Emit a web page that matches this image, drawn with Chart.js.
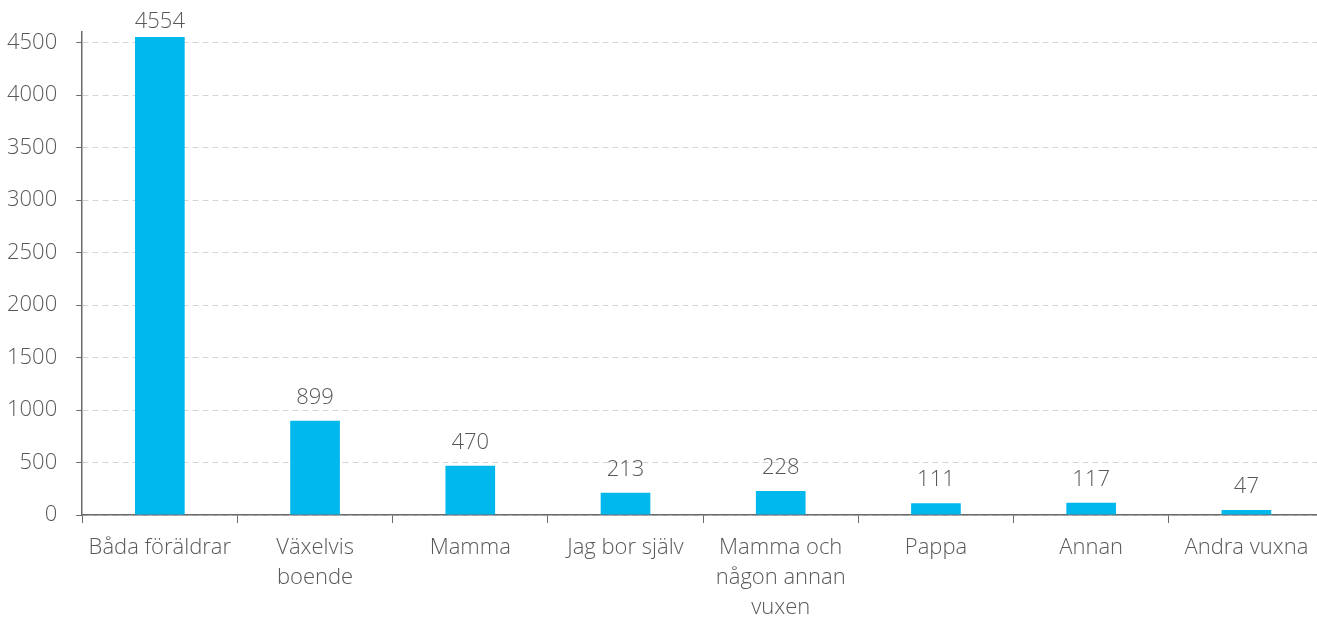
<!DOCTYPE html>
<html>
<head>
<meta charset="utf-8">
<script src="https://cdn.jsdelivr.net/npm/chart.js@4"></script>
<style>
  html, body { margin: 0; padding: 0; background: #fff; overflow: hidden; }
  #wrap { width: 1324px; height: 633px; }
</style>
</head>
<body>
<div id="wrap"><canvas id="myChart"></canvas></div>
<script>
'use strict'
const categories = [
    'Båda föräldrar',
    ['Växelvis', 'boende'],
    'Mamma',
    'Jag bor själv',
    ['Mamma och', 'någon annan', 'vuxen'],
    'Pappa',
    'Annan',
    'Andra vuxna'
];
const answers = [4554, 899, 470, 213, 228, 111, 117, 47];
const yTicks = [0, 500, 1000, 1500, 2000, 2500, 3000, 3500, 4000, 4500];

const textGrey = '#595959';
const axisGrey = '#6a6a6a';
const fontFam = "'Open Sans', 'DejaVu Sans', sans-serif";

// numbers above the bars
const barLabels = {
    id: 'barLabels',
    afterDatasetsDraw(chart) {
        const ctx = chart.ctx;
        const meta = chart.getDatasetMeta(0);
        ctx.save();
        ctx.fillStyle = textGrey;
        ctx.font = '300 22px ' + fontFam;
        ctx.textAlign = 'center';
        ctx.textBaseline = 'alphabetic';
        meta.data.forEach(function (bar, i) {
            let y = Math.max(bar.y - 17, 28);
            ctx.fillText(answers[i], bar.x, y);
        });
        ctx.restore();
    }
};

let ctx = document.getElementById('myChart');
let chart = new Chart(ctx, {
    type: 'bar',
    data: {
        labels: categories,
        datasets: [{
            data: answers,
            backgroundColor: '#00B8EC',
            barPercentage: 0.32,
            categoryPercentage: 1
        }]
    },
    options: {
        responsive: true,
        maintainAspectRatio: false,
        animation: false,
        layout: { padding: { top: 30, left: -12, right: 0, bottom: 0 } },
        plugins: {
            legend: { display: false },
            tooltip: { enabled: false }
        },
        scales: {
            y: {
                min: 0,
                max: 4600,
                afterBuildTicks: function (scale) {
                    scale.ticks = yTicks.map(function (v) { return { value: v }; });
                },
                border: { color: axisGrey, width: 1.5, dash: [6, 4] },
                grid: {
                    color: '#d4d4d4',
                    tickColor: axisGrey,
                    tickLength: 6,
                    tickBorderDash: []
                },
                ticks: {
                    color: textGrey,
                    padding: 19,
                    callback: function (v) { return String(v); },
                    font: { family: fontFam, size: 22, weight: '300' }
                }
            },
            x: {
                border: { color: axisGrey, width: 1.5 },
                grid: {
                    drawOnChartArea: false,
                    tickColor: axisGrey,
                    tickLength: 8,
                    offset: true
                },
                ticks: {
                    color: textGrey,
                    padding: 10,
                    maxRotation: 0,
                    autoSkip: false,
                    font: { family: fontFam, size: 22, weight: '300', lineHeight: 1.3636 }
                }
            }
        }
    },
    plugins: [barLabels]
});
</script>
</body>
</html>
